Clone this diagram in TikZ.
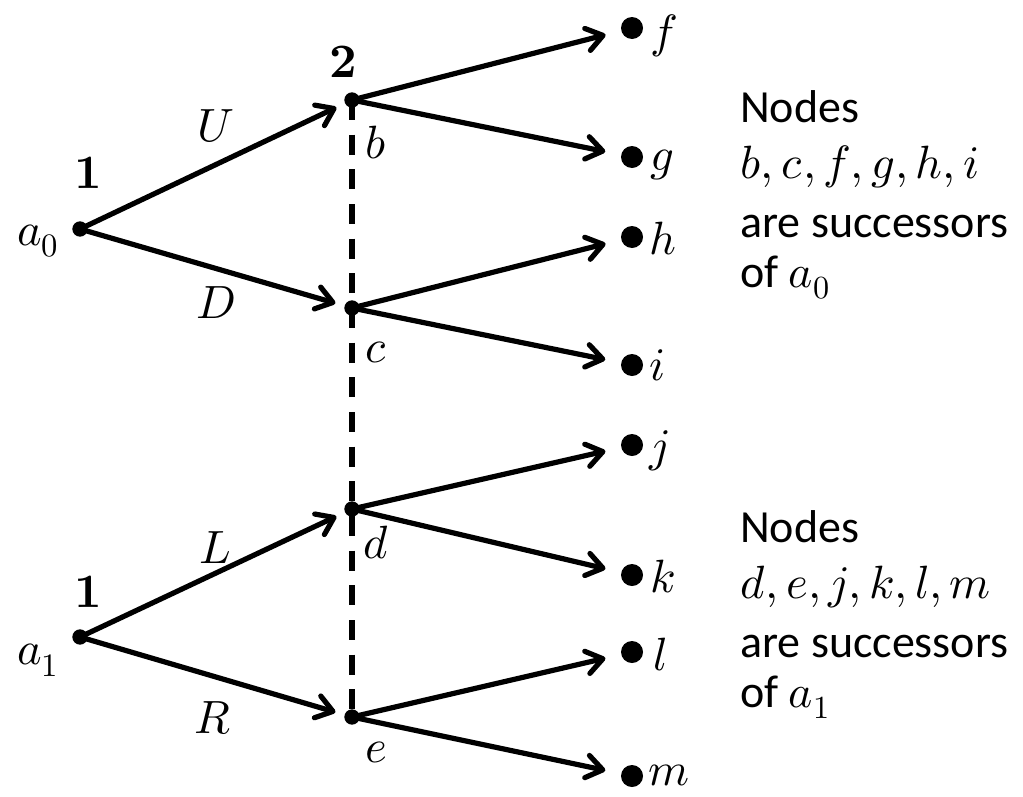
\documentclass[tikz,border=0pt]{standalone}
\usepackage{fontspec}
\usepackage{unicode-math}
\setmainfont{Carlito}
\setmathfont{Latin Modern Math}
\usetikzlibrary{arrows.meta}
\begin{document}
\begin{tikzpicture}[x=0.75pt,y=-0.75pt,
  dot/.style={circle,fill,inner sep=0pt,minimum size=11.5pt},
  bdot/.style={circle,fill,inner sep=0pt,minimum size=16.5pt},
  lab/.style={inner sep=0pt,font=\fontsize{35}{42}\selectfont},
  num/.style={inner sep=0pt,font=\fontsize{36}{43}\selectfont},
  txt/.style={inner sep=0pt,anchor=base west,font=\fontsize{34.5}{41}\selectfont},
  mtxt/.style={inner sep=0pt,anchor=base west,font=\fontsize{35}{42}\selectfont},
  arr/.style={line width=3.9pt,-{Straight Barb[length=12pt,width=17pt,round]},shorten >=7pt},
  rarr/.style={arr,shorten >=12pt},
  info/.style={line width=3.9pt,dash pattern=on 15pt off 11pt}
]
\useasboundingbox (0,0) rectangle (1023,796);
% decision nodes
\node[dot] (a0) at (80,229) {};
\node[dot] (a1) at (80,637) {};
\node[dot] (b) at (352,100) {};
\node[dot] (c) at (352,308) {};
\node[dot] (d) at (352,509) {};
\node[dot] (e) at (352,717) {};
% terminal nodes
\node[bdot] (f) at (632,28) {};
\node[bdot] (g) at (632,157) {};
\node[bdot] (h) at (632,237) {};
\node[bdot] (i) at (632,365) {};
\node[bdot] (j) at (632,445) {};
\node[bdot] (k) at (632,575) {};
\node[bdot] (l) at (632,652) {};
\node[bdot] (m) at (632,776) {};
% information set
\draw[info] (b.center) -- (e.center);
% moves
\draw[arr] (a0.center) -- (b);
\draw[arr] (a0.center) -- (c);
\draw[arr] (a1.center) -- (d);
\draw[arr] (a1.center) -- (e);
\draw[rarr] (b.center) -- (f);
\draw[rarr] (b.center) -- (g);
\draw[rarr] (c.center) -- (h);
\draw[rarr] (c.center) -- (i);
\draw[rarr] (d.center) -- (j);
\draw[rarr] (d.center) -- (k);
\draw[rarr] (e.center) -- (l);
\draw[rarr] (e.center) -- (m);
% player labels
\node[num] (p1a) at (88,173) {$\symbf{1}$};
\node[num] (p1b) at (88,592) {$\symbf{1}$};
\node[num] (p2) at (343,62) {$\symbf{2}$};
% node names
\node[lab] (la0) at (38,241) {$a_0$};
\node[lab] (la1) at (38,660) {$a_1$};
\node[lab] (lb) at (376,143) {$b$};
\node[lab] (lc) at (376,352) {$c$};
\node[lab] (ld) at (376,543) {$d$};
\node[lab] (le) at (376,752) {$e$};
\node[lab] (lf) at (664,36) {$f$};
\node[lab] (lg) at (662,165) {$g$};
\node[lab] (lh) at (663,239) {$h$};
\node[lab] (li) at (658,365) {$i$};
\node[lab] (lj) at (659,451) {$j$};
\node[lab] (lk) at (663,577) {$k$};
\node[lab] (ll) at (660,655) {$l$};
\node[lab] (lm) at (669,775) {$m$};
% action labels
\node[lab] (U) at (216,126) {$U$};
\node[lab] (D) at (216,303) {$D$};
\node[lab] (L) at (215,548) {$L$};
\node[lab] (R) at (213,718) {$R$};
% notes
\node[txt] (t1) at (740,122) {Nodes};
\node[mtxt] (t2) at (740,178) {$b, c, f, g, h, i$};
\node[txt] (t3) at (740,237) {are successors};
\node[txt] (t4) at (740,287) {of $a_0$};
\node[txt] (s1) at (740,542) {Nodes};
\node[mtxt] (s2) at (740,598) {$d, e, j, k, l, m$};
\node[txt] (s3) at (740,657) {are successors};
\node[txt] (s4) at (740,707) {of $a_1$};
\end{tikzpicture}
\end{document}
